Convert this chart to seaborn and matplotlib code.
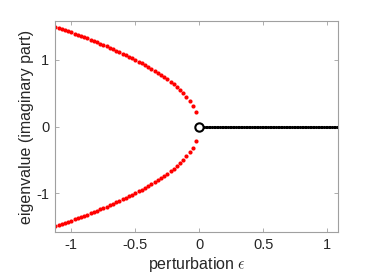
import matplotlib
matplotlib.use("Agg")
import numpy as np
import pandas as pd
import matplotlib.pyplot as plt
import seaborn as sns

# =====================================
# Data
# =====================================
eps_neg = [-1.125, -1.1, -1.075, -1.05, -1.025, -1.0, -0.975, -0.95, -0.925, -0.9,
           -0.875, -0.85, -0.825, -0.8, -0.775, -0.75, -0.725, -0.7, -0.675, -0.65,
           -0.625, -0.6, -0.575, -0.55, -0.525, -0.5, -0.475, -0.45, -0.425, -0.4,
           -0.375, -0.35, -0.325, -0.3, -0.275, -0.25, -0.225, -0.2, -0.175, -0.15,
           -0.125, -0.1, -0.075, -0.05, -0.025]
imag_upper = [1.500, 1.483, 1.466, 1.449, 1.432, 1.414, 1.396, 1.378, 1.360, 1.342,
              1.323, 1.304, 1.285, 1.265, 1.245, 1.225, 1.204, 1.183, 1.162, 1.140,
              1.118, 1.095, 1.072, 1.049, 1.025, 1.000, 0.975, 0.949, 0.922, 0.894,
              0.866, 0.837, 0.806, 0.775, 0.742, 0.707, 0.671, 0.632, 0.592, 0.548,
              0.500, 0.447, 0.387, 0.316, 0.224]
imag_lower = [-1.500, -1.483, -1.466, -1.449, -1.432, -1.414, -1.396, -1.378, -1.360, -1.342,
              -1.323, -1.304, -1.285, -1.265, -1.245, -1.225, -1.204, -1.183, -1.162, -1.140,
              -1.118, -1.095, -1.072, -1.049, -1.025, -1.000, -0.975, -0.949, -0.922, -0.894,
              -0.866, -0.837, -0.806, -0.775, -0.742, -0.707, -0.671, -0.632, -0.592, -0.548,
              -0.500, -0.447, -0.387, -0.316, -0.224]

# real eigenvalues for eps > 0 (imaginary part zero), densely sampled
eps_pos = [0.0125, 0.025, 0.0375, 0.05, 0.0625, 0.075, 0.0875, 0.1, 0.1125, 0.125,
           0.1375, 0.15, 0.1625, 0.175, 0.1875, 0.2, 0.2125, 0.225, 0.2375, 0.25,
           0.2625, 0.275, 0.2875, 0.3, 0.3125, 0.325, 0.3375, 0.35, 0.3625, 0.375,
           0.3875, 0.4, 0.4125, 0.425, 0.4375, 0.45, 0.4625, 0.475, 0.4875, 0.5,
           0.5125, 0.525, 0.5375, 0.55, 0.5625, 0.575, 0.5875, 0.6, 0.6125, 0.625,
           0.6375, 0.65, 0.6625, 0.675, 0.6875, 0.7, 0.7125, 0.725, 0.7375, 0.75,
           0.7625, 0.775, 0.7875, 0.8, 0.8125, 0.825, 0.8375, 0.85, 0.8625, 0.875,
           0.8875, 0.9, 0.9125, 0.925, 0.9375, 0.95, 0.9625, 0.975, 0.9875, 1.0,
           1.0125, 1.025, 1.0375, 1.05, 1.0625, 1.075, 1.0875]
imag_pos = [0.0] * len(eps_pos)

bif_eps = [0.0]
bif_imag = [0.0]

xticks = [-1, -0.5, 0, 0.5, 1]
xticklabels = ["-1", "-0.5", "0", "0.5", "1"]
yticks = [-1, 0, 1]
yticklabels = ["-1", "0", "1"]

# =====================================
# Style
# =====================================
sns.set_style("white")
plt.rcParams['font.family'] = ['Liberation Sans', 'DejaVu Sans']
plt.rcParams['axes.unicode_minus'] = False
plt.rcParams['mathtext.fontset'] = 'cm'

text_col = "#262626"
spine_col = "#a0a0a0"

fig = plt.figure(figsize=(3.74, 2.8), dpi=100)
ax = fig.add_axes([0.147, 0.170, 0.757, 0.756])

neg_df = pd.DataFrame({"eps": eps_neg * 2, "imag": imag_upper + imag_lower})
pos_df = pd.DataFrame({"eps": eps_pos, "imag": imag_pos})

sns.scatterplot(data=neg_df, x="eps", y="imag", color="red", s=9, linewidth=0, ax=ax)
sns.scatterplot(data=pos_df, x="eps", y="imag", color="black", s=5, linewidth=0, ax=ax)
ax.plot(bif_eps, bif_imag, 'o', markersize=6, markerfacecolor='white',
        markeredgecolor='black', markeredgewidth=1.5, zorder=5)

ax.set_xlim(-1.128, 1.085)
ax.set_ylim(-1.59, 1.59)
ax.set_xticks(xticks)
ax.set_xticklabels(xticklabels)
ax.set_yticks(yticks)
ax.set_yticklabels(yticklabels)

ax.tick_params(direction='in', length=3, width=0.6, colors=spine_col,
               labelcolor=text_col, labelsize=10.5, top=True, right=True,
               bottom=True, left=True, pad=4)
for sp in ax.spines.values():
    sp.set_visible(True)
    sp.set_color(spine_col)
    sp.set_linewidth(0.8)

ax.set_xlabel(r"perturbation $\epsilon$", fontsize=11.5, color=text_col, labelpad=2)
ax.set_ylabel("eigenvalue (imaginary part)", fontsize=11.5, color=text_col, labelpad=2)

fig.savefig("out.png", dpi=100)
